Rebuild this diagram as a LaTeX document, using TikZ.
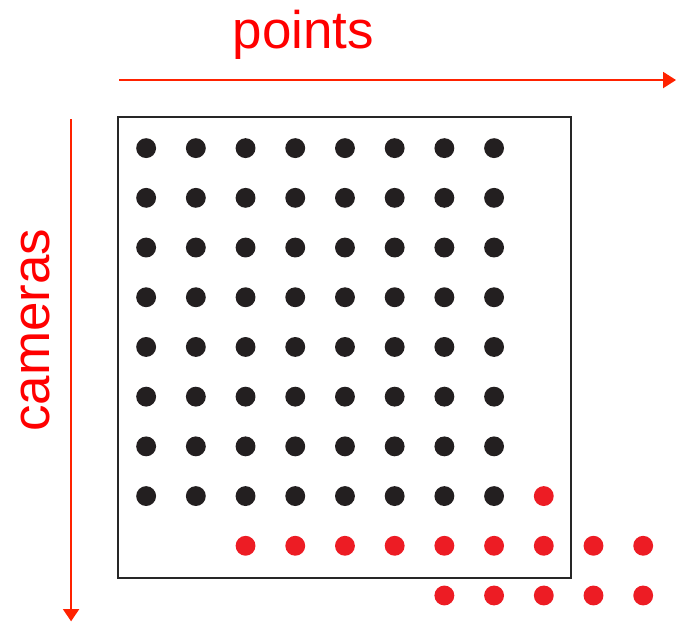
\documentclass[tikz,border=0pt]{standalone}
\usepackage{fontspec}
\setmainfont{Liberation Sans}
\usetikzlibrary{arrows.meta}

\definecolor{pontopreto}{HTML}{231F20}
\definecolor{pontovermelho}{HTML}{ED1C24}
\definecolor{eixovermelho}{HTML}{FF2200}

\begin{document}
\begin{tikzpicture}
    \useasboundingbox (-2.94,2.98) rectangle (10.68,-9.54);

    % Eixos
    \coordinate (pts0) at (-0.54,1.37);
    \coordinate (pts1) at (10.66,1.37);
    \coordinate (cam0) at (-1.51,0.58);
    \coordinate (cam1) at (-1.51,-9.52);
    \draw[eixovermelho,line width=1pt,-{Triangle[length=7.4pt,width=9.2pt]}] (pts0) -- (pts1);
    \draw[eixovermelho,line width=0.8pt,-{Triangle[length=7pt,width=9.2pt]}] (cam0) -- (cam1);
    \node[red,anchor=base,font=\fontsize{30.3}{36}\selectfont] (pontos) at (3.16,2.01) {points};
    \node[red,rotate=90,font=\fontsize{30.3}{36}\selectfont] (cameras) at (-2.23,-3.66) {cameras};

    % Moldura
    \draw[black!85,line width=1.1pt] (-0.57,0.63) rectangle (8.54,-8.65);

    % Pontos
    \foreach \i in {0,...,7}
        \foreach \j in {0,...,7}
            \fill[pontopreto] (\i,-\j) circle (0.2);
    \fill[pontovermelho] (8,-7) circle (0.2);
    \foreach \i in {2,...,10}
        \fill[pontovermelho] (\i,-8) circle (0.2);
    \foreach \i in {6,...,10}
        \fill[pontovermelho] (\i,-9) circle (0.2);
\end{tikzpicture}
\end{document}
